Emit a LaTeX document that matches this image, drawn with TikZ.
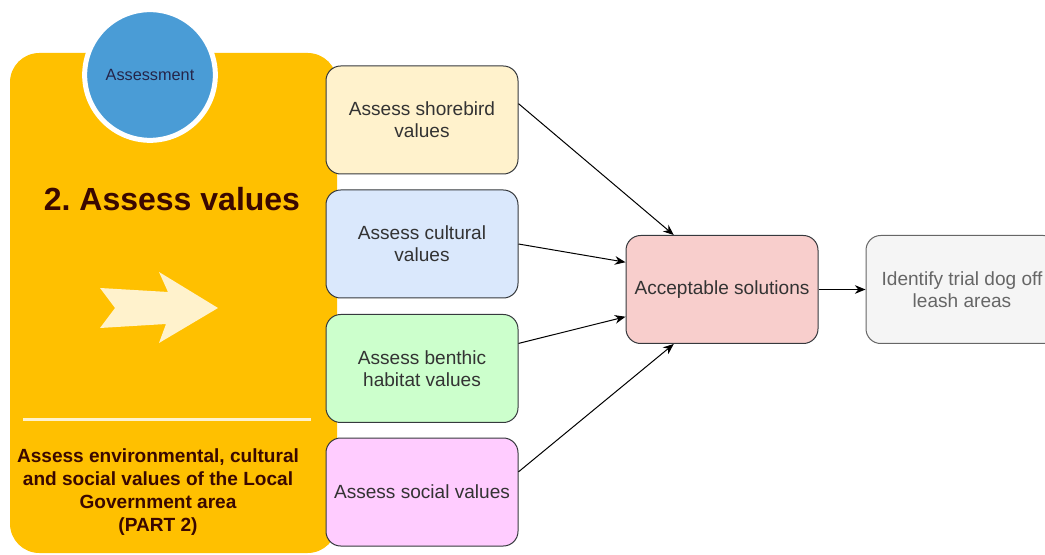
\documentclass[tikz,border=0pt]{standalone}
\usepackage{fontspec}
\setmainfont{Liberation Sans}
\usetikzlibrary{arrows.meta,calc}
\definecolor{panelorange}{HTML}{FFC000}
\definecolor{assessblue}{HTML}{4A9CD6}
\definecolor{assesstext}{HTML}{25254A}
\definecolor{arrowcream}{HTML}{FFF2CC}
\definecolor{titlebrown}{HTML}{3A0800}
\definecolor{boxline}{HTML}{36393D}
\definecolor{boxtext}{HTML}{333333}
\definecolor{shorefill}{HTML}{FFF2CC}
\definecolor{culturefill}{HTML}{DAE8FC}
\definecolor{benthicfill}{HTML}{CCFFCC}
\definecolor{socialfill}{HTML}{FFCCFF}
\definecolor{acceptfill}{HTML}{F8CECC}
\definecolor{trialfill}{HTML}{F5F5F5}
\definecolor{trialline}{HTML}{666666}
\frenchspacing

\begin{document}
\begin{tikzpicture}[x=0.75pt, y=-0.75pt,
  valbox/.style={draw=boxline, line width=0.75pt, rounded corners=11pt,
    minimum width=144pt, minimum height=81pt, align=center, text=boxtext,
    font=\fontsize{14.3}{16.5}\selectfont},
  link/.style={-{Stealth[length=8pt,width=6.5pt]}, line width=0.75pt, draw=black}]
\clip (0,0) rectangle (1045,555);
\fill[white] (0,0) rectangle (1045,555);
\fill[panelorange, rounded corners=22pt] (10,53) rectangle (337,553);
\node[circle, fill=assessblue, draw=white, line width=3.75pt, minimum size=98pt,
  text=assesstext, font=\fontsize{12.2}{14}\selectfont] (assess) at (150,75) {Assessment};
\node[text=titlebrown, font=\bfseries\fontsize{24}{28}\selectfont] (title) at (172,199) {2. Assess values};
\fill[arrowcream] (100,288) -- (168,292) -- (159,272) -- (218,308) -- (159,343)
  -- (166,324) -- (100,328) -- (115,308) -- cycle;
\draw[arrowcream, line width=2.25pt] (23,420) -- (311,420);
\node[align=center, text=titlebrown, font=\bfseries\fontsize{14.3}{17.2}\selectfont] (scope) at (158,492)
  {Assess environmental, cultural\\and social values of the Local\\Government area\\(PART 2)};

\node[valbox, fill=shorefill] (shore) at (422,120) {Assess shorebird\\values};
\node[valbox, fill=culturefill] (culture) at (422,244) {Assess cultural\\values};
\node[valbox, fill=benthicfill] (benthic) at (422,368.5) {Assess benthic\\habitat values};
\node[valbox, fill=socialfill] (social) at (422,492) {Assess social values};
\node[valbox, fill=acceptfill] (accept) at (722,289.5) {Acceptable solutions};
\node[valbox, fill=trialfill, draw=trialline, text=trialline] (trial) at (962,289.5) {Identify trial dog off\\leash areas};

\draw[link] ($(shore.east)!0.3!(shore.north east)$) -- ($(accept.north)!0.5!(accept.north west)$);
\draw[link] (culture.east) -- ($(accept.west)!0.5!(accept.north west)$);
\draw[link] ($(benthic.east)!0.46!(benthic.north east)$) -- ($(accept.west)!0.5!(accept.south west)$);
\draw[link] ($(social.east)!0.37!(social.north east)$) -- ($(accept.south)!0.5!(accept.south west)$);
\draw[link] (accept) -- (trial);
\end{tikzpicture}
\end{document}
